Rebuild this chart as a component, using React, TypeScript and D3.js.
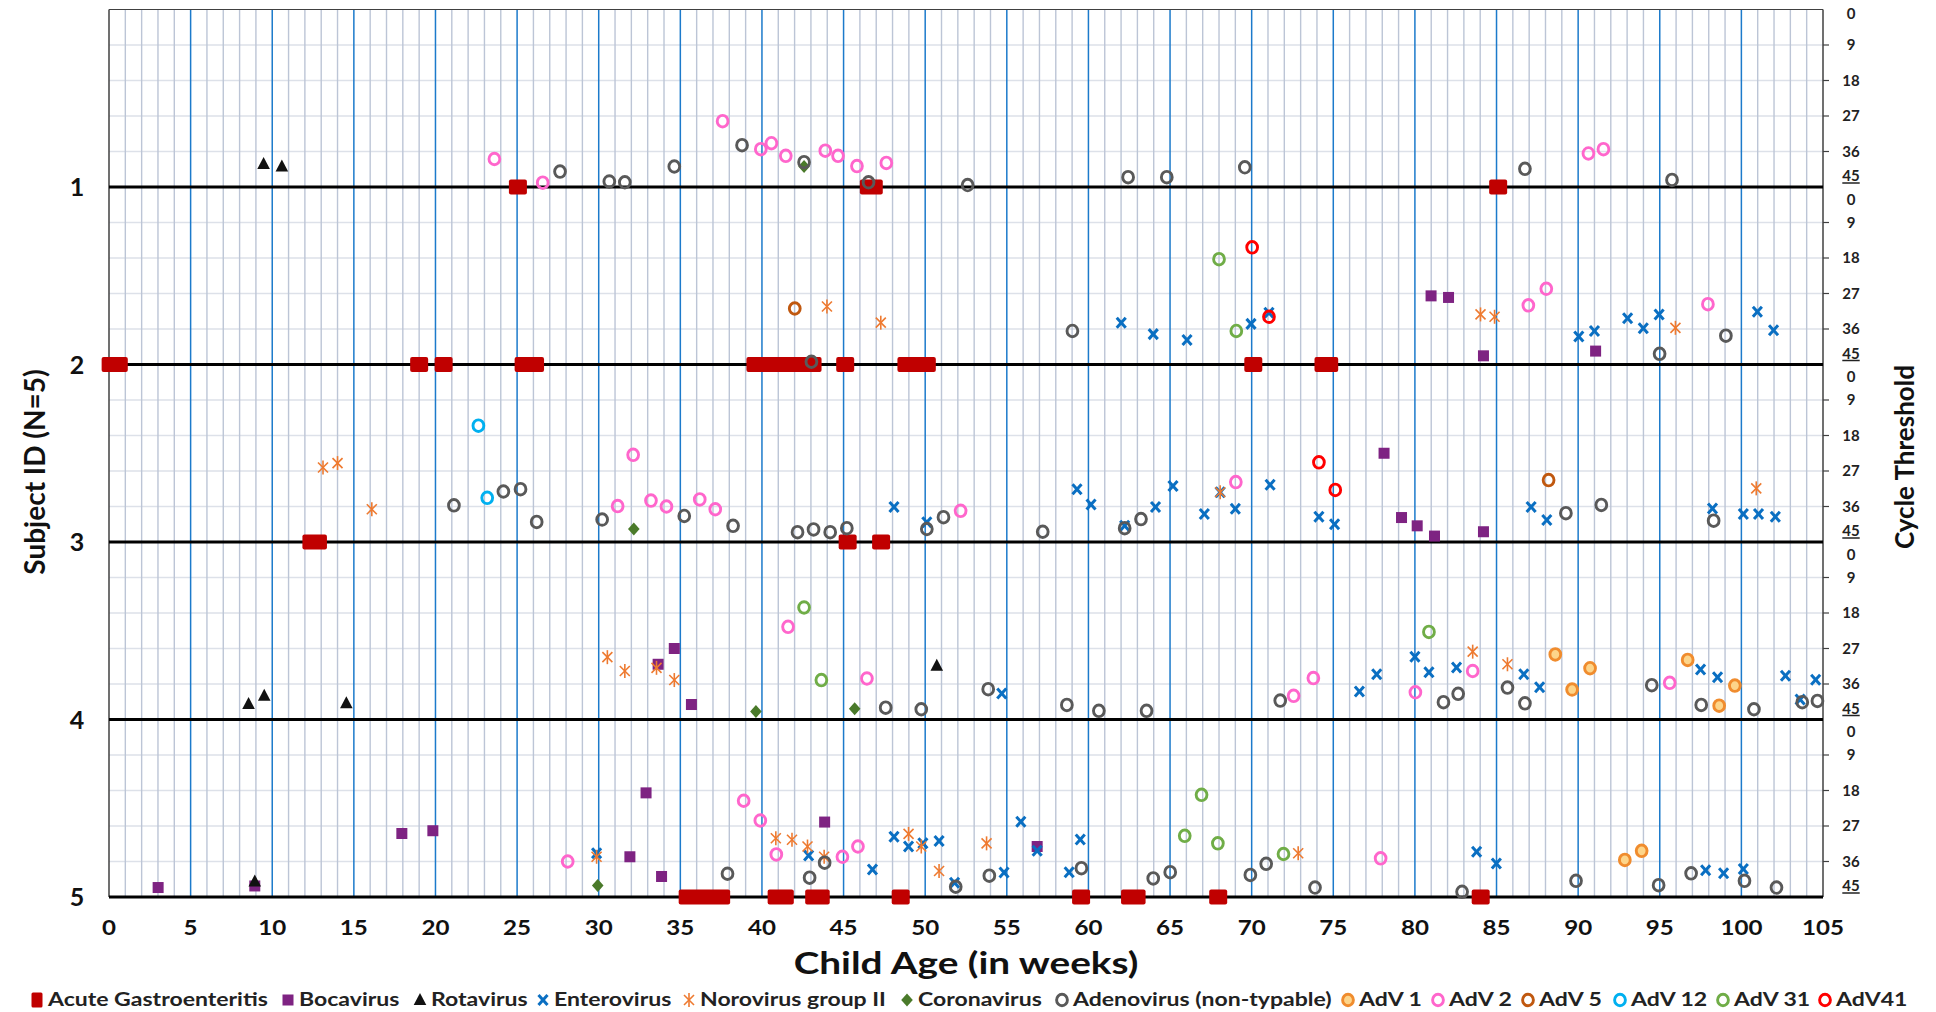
import React from 'react';
import * as d3 from 'd3';

// ---------------- DATA ----------------
// [subject, week, cycle threshold]
type Pt = [number, number, number];

const subjectTicks = [1, 2, 3, 4, 5];
const weekTicks = [0, 5, 10, 15, 20, 25, 30, 35, 40, 45, 50, 55, 60, 65, 70, 75, 80, 85, 90, 95, 100, 105];
const ctTicks = [0, 9, 18, 27, 36, 45];

// Acute gastroenteritis episodes: [subject, start week, end week]
const ageEpisodes: [number, number, number][] = [
  [1, 25.05, 25.05], [1, 46.55, 46.85], [1, 85.1, 85.1],
  [2, 0.1, 0.6], [2, 19.0, 19.0], [2, 20.5, 20.5], [2, 25.4, 26.1], [2, 39.6, 43.1], [2, 45.1, 45.1],
  [2, 48.85, 50.1], [2, 70.1, 70.1], [2, 74.4, 74.75],
  [3, 12.4, 12.8], [3, 45.25, 45.25], [3, 47.3, 47.3],
  [5, 35.45, 37.5], [5, 40.9, 41.4], [5, 43.2, 43.6], [5, 48.5, 48.5], [5, 59.55, 59.55],
  [5, 62.55, 62.95], [5, 67.95, 67.95], [5, 84.03, 84.03],
];

const bocavirus: Pt[] = [
  [2, 80.99, 27.6], [2, 82.06, 28.0], [2, 84.2, 42.8], [2, 91.07, 41.6],
  [3, 78.11, 22.5], [3, 79.18, 38.8], [3, 80.14, 40.9], [3, 81.2, 43.5], [3, 84.2, 42.4],
  [4, 33.64, 31.0], [4, 34.63, 27.0], [4, 35.68, 41.2],
  [5, 3.01, 42.6], [5, 8.93, 42.2], [5, 17.94, 28.9], [5, 19.84, 28.2], [5, 31.91, 34.8], [5, 32.9, 18.6],
  [5, 33.85, 39.8], [5, 43.84, 26.0], [5, 56.86, 32.2],
];

const rotavirus: Pt[] = [
  [1, 9.47, 39.2], [1, 10.59, 39.8],
  [4, 8.55, 41.1], [4, 9.51, 39.0], [4, 14.54, 40.9], [4, 50.71, 31.4],
  [5, 8.93, 41.1],
];

const enterovirus: Pt[] = [
  [2, 62.01, 34.4], [2, 63.97, 37.3], [2, 66.04, 38.8], [2, 69.96, 34.7], [2, 71.06, 31.9], [2, 90.04, 37.9],
  [2, 91.0, 36.5], [2, 93.03, 33.3], [2, 93.99, 35.8], [2, 94.96, 32.3], [2, 100.98, 31.6], [2, 101.97, 36.3],
  [3, 48.09, 36.1], [3, 50.1, 40.0], [3, 59.3, 31.6], [3, 60.16, 35.5], [3, 62.22, 40.9], [3, 64.11, 36.1],
  [3, 65.18, 30.8], [3, 67.1, 37.9], [3, 68.07, 32.4], [3, 69.0, 36.6], [3, 71.13, 30.5], [3, 74.12, 38.6],
  [3, 75.08, 40.5], [3, 87.12, 36.1], [3, 88.08, 39.4], [3, 98.23, 36.5], [3, 100.12, 37.9], [3, 101.05, 37.9],
  [3, 102.08, 38.6],
  [4, 54.69, 38.4], [4, 76.6, 37.9], [4, 77.66, 33.5], [4, 80.0, 29.1], [4, 80.86, 33.0], [4, 82.55, 31.8],
  [4, 86.67, 33.5], [4, 87.64, 36.8], [4, 97.5, 32.3], [4, 98.54, 34.3], [4, 102.7, 33.9], [4, 103.6, 39.9],
  [4, 104.55, 34.9],
  [5, 29.87, 33.9], [5, 42.86, 34.5], [5, 46.77, 38.0], [5, 48.09, 29.7], [5, 48.98, 32.2], [5, 49.86, 31.4],
  [5, 50.85, 30.8], [5, 51.8, 41.4], [5, 54.83, 38.8], [5, 55.86, 25.9], [5, 56.86, 33.3], [5, 58.82, 38.7],
  [5, 59.5, 30.4], [5, 83.78, 33.5], [5, 84.99, 36.5], [5, 97.81, 38.2], [5, 98.91, 39.0], [5, 100.12, 37.9],
];

const norovirus: Pt[] = [
  [2, 43.98, 30.3], [2, 47.28, 34.4], [2, 84.02, 32.3], [2, 84.88, 32.9], [2, 95.96, 35.7],
  [3, 13.11, 26.1], [3, 14.0, 25.0], [3, 16.1, 36.7], [3, 68.07, 32.4], [3, 100.91, 31.4],
  [4, 30.53, 29.2], [4, 31.6, 32.7], [4, 33.54, 31.9], [4, 34.63, 35.0], [4, 83.54, 27.8], [4, 85.67, 31.0],
  [5, 29.87, 34.8], [5, 40.85, 30.1], [5, 41.84, 30.5], [5, 42.79, 32.2], [5, 43.81, 34.8], [5, 48.98, 29.0],
  [5, 49.76, 32.2], [5, 50.85, 38.4], [5, 53.76, 31.4], [5, 72.85, 33.9],
];

const coronavirus: Pt[] = [
  [1, 42.58, 39.8], [3, 32.15, 41.7], [4, 39.63, 43.0], [4, 45.68, 42.3], [5, 29.94, 42.1],
];

const adenoNonTypable: Pt[] = [
  [1, 27.63, 41.1], [1, 30.65, 43.6], [1, 31.6, 43.8], [1, 34.63, 39.8], [1, 38.78, 34.4], [1, 42.58, 38.7],
  [1, 46.53, 43.8], [1, 52.6, 44.5], [1, 62.43, 42.5], [1, 64.8, 42.5], [1, 69.58, 40.0], [1, 86.74, 40.4],
  [1, 95.75, 43.2],
  [2, 43.03, 44.3], [2, 59.02, 36.5], [2, 94.99, 42.3], [2, 99.05, 37.7],
  [3, 21.13, 35.7], [3, 24.16, 32.2], [3, 25.21, 31.6], [3, 26.2, 39.9], [3, 30.21, 39.3], [3, 35.24, 38.4],
  [3, 38.23, 40.9], [3, 42.18, 42.5], [3, 43.16, 41.8], [3, 44.18, 42.5], [3, 45.2, 41.5], [3, 50.1, 41.7],
  [3, 51.12, 38.7], [3, 57.2, 42.4], [3, 62.22, 41.5], [3, 63.22, 39.2], [3, 89.25, 37.7], [3, 91.42, 35.6],
  [3, 98.3, 39.6],
  [4, 47.58, 42.0], [4, 49.76, 42.4], [4, 53.86, 37.3], [4, 58.68, 41.3], [4, 60.64, 42.8], [4, 63.56, 42.8],
  [4, 71.75, 40.2], [4, 81.75, 40.6], [4, 82.65, 38.5], [4, 85.67, 36.9], [4, 86.74, 40.9], [4, 94.51, 36.3],
  [4, 97.54, 41.3], [4, 100.77, 42.4], [4, 103.73, 40.6], [4, 104.66, 40.3],
  [5, 37.89, 39.1], [5, 42.92, 40.1], [5, 43.84, 36.3], [5, 51.87, 42.4], [5, 53.93, 39.6], [5, 59.57, 37.7],
  [5, 63.97, 40.3], [5, 65.01, 38.7], [5, 69.92, 39.4], [5, 70.89, 36.6], [5, 73.88, 42.6], [5, 82.89, 43.7],
  [5, 89.87, 40.9], [5, 94.93, 42.0], [5, 96.92, 39.0], [5, 100.19, 40.9], [5, 102.15, 42.6],
];

const adv1: Pt[] = [
  [4, 88.6, 28.5], [4, 89.63, 37.4], [4, 90.73, 32.0], [4, 96.71, 29.9], [4, 98.64, 41.5], [4, 99.6, 36.4],
  [5, 92.86, 35.6], [5, 93.89, 33.3],
];

const adv2: Pt[] = [
  [1, 23.61, 37.9], [1, 26.57, 43.9], [1, 37.59, 28.3], [1, 39.93, 35.4], [1, 40.58, 33.9], [1, 41.46, 37.1],
  [1, 43.88, 35.8], [1, 44.66, 37.1], [1, 45.82, 39.7], [1, 47.62, 38.9], [1, 90.63, 36.5], [1, 91.55, 35.4],
  [2, 86.95, 30.0], [2, 88.05, 25.8], [2, 97.95, 29.7],
  [3, 31.16, 35.9], [3, 32.11, 22.9], [3, 33.2, 34.5], [3, 34.15, 36.0], [3, 36.19, 34.2], [3, 37.14, 36.7],
  [3, 52.17, 37.1], [3, 69.03, 29.8],
  [4, 41.6, 21.5], [4, 46.43, 34.6], [4, 72.57, 39.0], [4, 73.78, 34.5], [4, 80.03, 38.1], [4, 83.54, 32.7],
  [4, 95.61, 35.7],
  [5, 28.1, 36.0], [5, 38.88, 20.6], [5, 39.9, 25.6], [5, 40.88, 34.2], [5, 44.93, 34.8], [5, 45.88, 32.2],
  [5, 77.9, 35.2],
];

const adv5: Pt[] = [[2, 42.01, 30.8], [3, 88.19, 29.3]];
const adv12: Pt[] = [[3, 22.63, 15.5], [3, 23.17, 33.8]];
const adv31: Pt[] = [
  [2, 68.0, 18.3], [2, 69.06, 36.5],
  [4, 42.58, 16.6], [4, 43.64, 35.0], [4, 80.86, 22.8],
  [5, 65.9, 29.5], [5, 66.93, 19.1], [5, 67.93, 31.4], [5, 71.95, 34.1],
];
const adv41: Pt[] = [[2, 70.03, 15.3], [2, 71.06, 32.9], [3, 74.12, 24.8], [3, 75.12, 31.8]];

// ---------------- STYLE / LAYOUT ----------------
type Shape = 'age' | 'square' | 'triangle' | 'x' | 'star' | 'diamond' | 'circle';
interface Series { name: string; data: Pt[]; shape: Shape; color: string; fill?: string }

const AGE_NAME = 'Acute Gastroenteritis';
const AGE_COLOR = '#C00000';

const series: Series[] = [
  { name: 'Bocavirus', data: bocavirus, shape: 'square', color: '#7E2382' },
  { name: 'Rotavirus', data: rotavirus, shape: 'triangle', color: '#111111' },
  { name: 'Enterovirus', data: enterovirus, shape: 'x', color: '#0A6FC2' },
  { name: 'Norovirus group II', data: norovirus, shape: 'star', color: '#EE7A30' },
  { name: 'Coronavirus', data: coronavirus, shape: 'diamond', color: '#4A7A2A' },
  { name: 'Adenovirus (non-typable)', data: adenoNonTypable, shape: 'circle', color: '#595959' },
  { name: 'AdV 1', data: adv1, shape: 'circle', color: '#F08C2E', fill: '#FDD58A' },
  { name: 'AdV 2', data: adv2, shape: 'circle', color: '#FF66CC' },
  { name: 'AdV 5', data: adv5, shape: 'circle', color: '#C0580F' },
  { name: 'AdV 12', data: adv12, shape: 'circle', color: '#00B0F0' },
  { name: 'AdV 31', data: adv31, shape: 'circle', color: '#70AD47' },
  { name: 'AdV41', data: adv41, shape: 'circle', color: '#FF0000' },
];

const legendMarkerX = [37, 288, 420, 543, 689, 907, 1062, 1348, 1438, 1528, 1620, 1723, 1825];

const W = 1936;
const H = 1012;
const FONT = "Lato, 'Open Sans', 'DejaVu Sans', sans-serif";

const x = d3.scaleLinear().domain([0, 105]).range([109, 1823]);
const ySub = d3.scaleLinear().domain([0, 5]).range([9.5, 897]);
const yPt = (s: number, ct: number) => ySub(s - 1 + ct / 45);

function Marker({ shape, cx, cy, color, fill }: { shape: Shape; cx: number; cy: number; color: string; fill?: string }) {
  switch (shape) {
    case 'square':
      return <rect x={cx - 5.5} y={cy - 5.5} width={11} height={11} fill={color} />;
    case 'triangle':
      return <path d={`M${cx},${cy - 7}L${cx + 6.3},${cy + 5}L${cx - 6.3},${cy + 5}Z`} fill={color} />;
    case 'x':
      return (
        <g stroke={color} strokeWidth={3} strokeLinecap="butt">
          <line x1={cx - 4.5} y1={cy - 5} x2={cx + 4.5} y2={cy + 5} />
          <line x1={cx - 4.5} y1={cy + 5} x2={cx + 4.5} y2={cy - 5} />
        </g>
      );
    case 'star':
      return (
        <g stroke={color} strokeWidth={1.6}>
          <line x1={cx - 5} y1={cy - 5} x2={cx + 5} y2={cy + 5} />
          <line x1={cx - 5} y1={cy + 5} x2={cx + 5} y2={cy - 5} />
          <line x1={cx} y1={cy - 7} x2={cx} y2={cy + 7} />
        </g>
      );
    case 'diamond':
      return <path d={`M${cx},${cy - 6.5}L${cx + 5.8},${cy}L${cx},${cy + 6.5}L${cx - 5.8},${cy}Z`} fill={color} />;
    case 'circle':
      return <ellipse cx={cx} cy={cy} rx={5.4} ry={5.8} fill={fill || 'none'} stroke={color} strokeWidth={2.9} />;
    default:
      return null;
  }
}

export default function App() {
  const minorWeeks = d3.range(0, 106).filter((w) => w % 5 !== 0);
  const ctGrid = ctTicks.filter((t) => t !== 0 && t !== 45);
  const left = x(0);
  const right = x(105);

  const legendItems = [
    { name: AGE_NAME, shape: 'age' as Shape, color: AGE_COLOR, fill: undefined as string | undefined },
    ...series.map((s) => ({ name: s.name, shape: s.shape, color: s.color, fill: s.fill })),
  ];

  return (
    <svg width={W} height={H} style={{ position: 'absolute', left: 0, top: 0, display: 'block', background: '#fff' }} fontFamily={FONT}>
      <rect x={0} y={0} width={W} height={H} fill="#fff" />
      {/* horizontal Ct gridlines */}
      {subjectTicks.map((s) =>
        ctGrid.map((ct) => (
          <line key={`h${s}-${ct}`} x1={left} x2={right} y1={yPt(s, ct)} y2={yPt(s, ct)} stroke="#DDE1E9" strokeWidth={1.5} />
        ))
      )}
      {/* minor vertical gridlines */}
      {minorWeeks.map((w) => (
        <line key={`vm${w}`} x1={x(w)} x2={x(w)} y1={ySub(0)} y2={ySub(5)} stroke="#BCC5D6" strokeWidth={1.4} />
      ))}
      {/* major vertical gridlines */}
      {weekTicks.filter((w) => w !== 0 && w !== 105).map((w) => (
        <line key={`vM${w}`} x1={x(w)} x2={x(w)} y1={ySub(0)} y2={ySub(5)} stroke="#1C7ACB" strokeWidth={1.5} />
      ))}
      {/* plot border */}
      <line x1={left} x2={right} y1={ySub(0)} y2={ySub(0)} stroke="#404040" strokeWidth={1.2} />
      <line x1={left} x2={left} y1={ySub(0)} y2={ySub(5)} stroke="#404040" strokeWidth={1.5} />
      <line x1={right} x2={right} y1={ySub(0)} y2={ySub(5)} stroke="#404040" strokeWidth={1.5} />
      {/* subject lines */}
      {subjectTicks.map((s) => (
        <line key={`s${s}`} x1={left} x2={right} y1={ySub(s)} y2={ySub(s)} stroke="#000" strokeWidth={3} />
      ))}
      {/* right axis ticks and labels */}
      {subjectTicks.map((s) => (
        <g key={`ra${s}`}>
          {ctGrid.map((ct) => (
            <line key={ct} x1={right} x2={right + 6} y1={yPt(s, ct)} y2={yPt(s, ct)} stroke="#404040" strokeWidth={1.2} />
          ))}
          {ctTicks.map((ct) => {
            let yy = yPt(s, ct);
            if (ct === 0) yy += s === 1 ? 4.5 : 12.5;
            if (ct === 45) yy -= 11;
            return (
              <text key={`t${ct}`} x={1851} y={yy} dy="0.35em" textAnchor="middle" fontSize={15} fontWeight="bold" fill="#222"
                textDecoration={ct === 45 ? 'underline' : undefined}>
                {ct}
              </text>
            );
          })}
        </g>
      ))}
      {/* left axis labels */}
      {subjectTicks.map((s) => (
        <text key={`la${s}`} x={77} y={ySub(s)} dy="0.36em" textAnchor="middle" fontSize={25} fontWeight="bold" fill="#111">
          {s}
        </text>
      ))}
      {/* x axis labels */}
      {weekTicks.map((w) => (
        <text key={`xa${w}`} transform={`translate(${x(w)},927) scale(1.15,1)`} dy="0.36em" textAnchor="middle" fontSize={21} fontWeight="bold" fill="#111">
          {w}
        </text>
      ))}
      {/* axis titles */}
      <text transform={`translate(966,963) scale(1.25,1)`} dy="0.36em" textAnchor="middle" fontSize={31} fontWeight="bold" fill="#111">
        Child Age (in weeks)
      </text>
      <text transform={`translate(35,472) rotate(-90)`} dy="0.36em" textAnchor="middle" fontSize={28} fontWeight="bold" fill="#111">
        Subject ID (N=5)
      </text>
      <text transform={`translate(1905,457) rotate(-90)`} dy="0.36em" textAnchor="middle" fontSize={26} fontWeight="bold" fill="#111">
        Cycle Threshold
      </text>

      {/* AGE episodes */}
      {ageEpisodes.map(([s, a, b], i) => (
        <rect key={`age${i}`} x={x(a) - 9} y={yPt(s, 45) - 7.5} width={x(b) - x(a) + 18} height={15} rx={2} fill={AGE_COLOR} />
      ))}
      {/* other series */}
      {series.map((ser) => (
        <g key={ser.name}>
          {ser.data.map(([s, w, ct], i) => (
            <Marker key={i} shape={ser.shape} cx={x(w)} cy={yPt(s, ct)} color={ser.color} fill={ser.fill} />
          ))}
        </g>
      ))}

      {/* legend */}
      {legendItems.map((it, i) => {
        const mx = legendMarkerX[i];
        const my = 1000;
        return (
          <g key={`lg${i}`}>
            {it.shape === 'age' ? (
              <rect x={mx - 5.5} y={my - 7.5} width={11} height={15} rx={1.5} fill={it.color} />
            ) : (
              <Marker shape={it.shape} cx={mx} cy={my} color={it.color} fill={it.fill} />
            )}
            <text transform={`translate(${mx + 11},${my}) scale(1.28,1)`} dy="0.35em" fontSize={18} fontWeight="bold" fill="#222">
              {it.name}
            </text>
          </g>
        );
      })}
    </svg>
  );
}
